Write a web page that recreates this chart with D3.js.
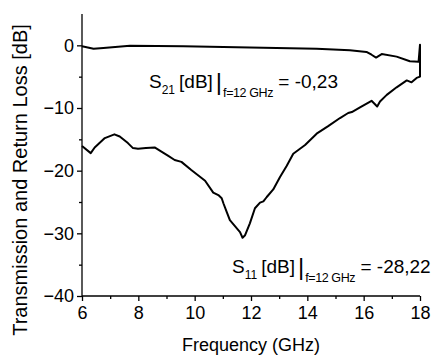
<!DOCTYPE html>
<html>
<head>
<meta charset="utf-8">
<script src="https://cdn.jsdelivr.net/npm/d3@7/dist/d3.min.js"></script>
<style>
  html, body { margin: 0; padding: 0; background: #fff; }
  svg { display: block; font-family: Arial, "Liberation Sans", sans-serif; }
</style>
</head>
<body>
<svg id="chart" width="435" height="362"></svg>
<script>
// ---- data ----
const xTicks = [6, 8, 10, 12, 14, 16, 18];
const yTicks = [-40, -30, -20, -10, 0];
const xMinor = [7, 9, 11, 13, 15, 17];
const yMinor = [-35, -25, -15, -5];

// S21 (transmission)
const s21Freq = [6.0, 6.41, 6.76, 7.7, 9.6, 11.96, 14.33, 15.51, 16.1, 16.28, 16.44, 16.64, 17.17, 17.64, 17.95, 18.0, 18.0];
const s21dB   = [-0.15, -0.55, -0.42, -0.08, -0.15, -0.35, -0.55, -0.8, -1.05, -1.5, -1.95, -1.4, -1.8, -2.55, -2.6, 0.1, -5.1];

// S11 (return loss)
const s11Freq = [6.0, 6.31, 6.45, 6.81, 7.15, 7.34, 7.63, 7.81, 7.99, 8.27, 8.58, 8.82, 9.05, 9.29, 9.53, 9.88, 10.37, 10.66, 10.84, 10.96, 11.02, 11.14, 11.25, 11.43, 11.61, 11.70, 11.79, 11.96, 12.14, 12.32, 12.44, 12.56, 12.79, 13.03, 13.27, 13.5, 13.92, 14.33, 14.74, 15.16, 15.45, 15.58, 15.87, 16.28, 16.48, 16.58, 16.82, 17.17, 17.53, 17.7, 17.88, 18.0];
const s11dB   = [-16.05, -17.2, -16.3, -14.8, -14.2, -14.55, -15.6, -16.4, -16.5, -16.4, -16.3, -16.95, -17.6, -18.3, -18.6, -19.9, -21.6, -23.5, -23.9, -24.4, -25.2, -26.6, -27.9, -28.85, -29.8, -30.7, -30.3, -28.4, -26.0, -25.1, -24.9, -24.2, -23.0, -21.0, -19.2, -17.3, -15.9, -14.1, -12.9, -11.6, -10.8, -10.65, -9.9, -8.85, -9.76, -8.96, -7.9, -6.7, -5.6, -5.9, -5.2, -5.0];

// ---- layout ----
const svg = d3.select("#chart");
const x = d3.scaleLinear().domain([6, 18]).range([82, 420]);
const y = d3.scaleLinear().domain([-40, 5]).range([296, 14]);

// Y axis
const yAxis = d3.axisLeft(y).tickValues(yTicks).tickSize(5).tickPadding(3).tickFormat(d3.format("d"));
const gy = svg.append("g").attr("transform", `translate(${x(6)},0)`).call(yAxis);
gy.select(".domain").attr("d", `M0,${y(5)}V${y(-40)}`).attr("stroke-width", 1.3);
gy.selectAll(".tick line").attr("stroke-width", 1.3);
gy.selectAll(".tick text").attr("font-size", 18).attr("font-family", "Arial, 'Liberation Sans', sans-serif").attr("fill", "#000");
const gyMinor = svg.append("g").attr("transform", `translate(${x(6)},0)`)
  .call(d3.axisLeft(y).tickValues(yMinor).tickSize(3).tickFormat(""));
gyMinor.select(".domain").remove();
gyMinor.selectAll(".tick line").attr("stroke-width", 1.3);

// X axis
const xAxis = d3.axisBottom(x).tickValues(xTicks).tickSize(5).tickPadding(5).tickFormat(d3.format("d"));
const gx = svg.append("g").attr("transform", `translate(0,${y(-40)})`).call(xAxis);
gx.select(".domain").attr("d", `M${x(6)},0H${x(18)}`).attr("stroke-width", 1.3);
gx.selectAll(".tick line").attr("stroke-width", 1.3);
gx.selectAll(".tick text").attr("font-size", 18).attr("font-family", "Arial, 'Liberation Sans', sans-serif").attr("fill", "#000");
const gxMinor = svg.append("g").attr("transform", `translate(0,${y(-40)})`)
  .call(d3.axisBottom(x).tickValues(xMinor).tickSize(3).tickFormat(""));
gxMinor.select(".domain").remove();
gxMinor.selectAll(".tick line").attr("stroke-width", 1.3);

// Axis titles
svg.append("text")
  .attr("transform", `translate(27,${(y(5) + y(-40)) / 2 + 25}) rotate(-90)`)
  .attr("text-anchor", "middle")
  .attr("font-size", 20)
  .attr("fill", "#000")
  .text("Transmission and Return Loss [dB]");

svg.append("text")
  .attr("x", (x(6) + x(18)) / 2)
  .attr("y", 351)
  .attr("text-anchor", "middle")
  .attr("font-size", 18)
  .attr("fill", "#000")
  .text("Frequency (GHz)");

// Lines
const line = d3.line().x(d => x(d[0])).y(d => y(d[1]));
const s21 = s21Freq.map((f, i) => [f, s21dB[i]]);
const s11 = s11Freq.map((f, i) => [f, s11dB[i]]);

svg.append("path").datum(s21).attr("d", line)
  .attr("fill", "none").attr("stroke", "#000").attr("stroke-width", 2).attr("stroke-linejoin", "round");
svg.append("path").datum(s11).attr("d", line)
  .attr("fill", "none").attr("stroke", "#000").attr("stroke-width", 2).attr("stroke-linejoin", "round");

// Annotations
function annotate(xp, yp, sub, value) {
  const t = svg.append("text").attr("x", xp).attr("y", yp).attr("font-size", 19).attr("fill", "#000");
  t.append("tspan").text("S");
  t.append("tspan").attr("font-size", 12).attr("dy", 6).text(sub);
  t.append("tspan").attr("dy", -6).attr("dx", 4).text("[dB]");
  t.append("tspan").attr("font-size", 24).attr("font-weight", 300).attr("dy", 2).attr("dx", 3).text("|");
  t.append("tspan").attr("font-size", 12.5).attr("dy", 7).attr("dx", 1).attr("letter-spacing", -0.4).text("f=12 GHz");
  t.append("tspan").attr("dy", -9).text(" = " + value);
}
annotate(149, 88, "21", "-0,23");
annotate(232, 273, "11", "-28,22");
</script>
</body>
</html>
